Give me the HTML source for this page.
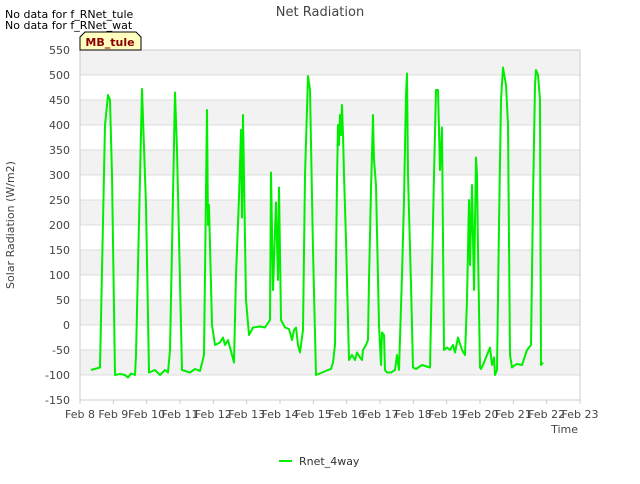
<!DOCTYPE html>
<html><head><meta charset="utf-8"><style>
body{margin:0;background:#fff;font-family:"DejaVu Sans","Liberation Sans",sans-serif;}
svg text{font-family:"DejaVu Sans","Liberation Sans",sans-serif;}
</style></head><body>
<svg id="chart" width="640" height="480" xmlns="http://www.w3.org/2000/svg">
<text x="5" y="18" font-size="11" fill="#000">No data for f_RNet_tule</text>
<text x="5" y="29" font-size="11" fill="#000">No data for f_RNet_wat</text>
<text x="320" y="16" font-size="13" fill="#444" text-anchor="middle">Net Radiation</text>
<g id="grid"></g>
<g id="axes"></g>
<g id="series"></g>
<g>
<path d="M80,50 L80,37 L85,32 L136,32 L141,37 L141,50 Z" fill="#ffffc0" stroke="#000" stroke-width="1"/>
<text x="110" y="46" font-size="11" font-weight="bold" fill="#8b0000" text-anchor="middle">MB_tule</text>
</g>
<text x="14" y="225" font-size="11" fill="#444" text-anchor="middle" transform="rotate(-90 14 225)">Solar Radiation (W/m2)</text>
<text x="578" y="433" font-size="11" fill="#444" text-anchor="end">Time</text>
<g>
<line x1="279" y1="461" x2="292" y2="461" stroke="#00ee00" stroke-width="2"/>
<text x="299" y="465" font-size="11" fill="#333">Rnet_4way</text>
</g>
</svg>
<script>
const yTicks=[-150,-100,-50,0,50,100,150,200,250,300,350,400,450,500,550];
const xTickLabels=["Feb 8","Feb 9","Feb 10","Feb 11","Feb 12","Feb 13","Feb 14","Feb 15","Feb 16","Feb 17","Feb 18","Feb 19","Feb 20","Feb 21","Feb 22","Feb 23"];
const px=[91,100,105,108,110,112,115,120,125,128,131,135,136,142,146,149,155,160,165,168,170,175,177,182,190,195,200,204,207,208,209,212,215,220,223,225,228,232,234,236,239,241,242,243,246,249,253,260,265,270,271,273,276,278,279,281,285,289,292,294,296,298,300,303,305,308,310,313,316,322,328,331,333,335,337,338,339,340,341,342,343,344,346,349,352,355,357,360,362,363,366,368,369,371,373,374,376,379,381,382,384,385,387,391,395,397,399,402,404,406,407,408,411,413,416,422,430,434,436,438,440,442,444,447,450,453,455,458,462,465,467,469,470,472,474,476,477,478,480,481,483,487,490,492,494,495,497,499,501,503,506,508,510,512,515,517,522,527,531,533,535,536,538,540,541,543,545,548,552,558];
const vals=[-90,-85,400,460,450,300,-100,-98,-100,-105,-97,-100,-60,472,240,-95,-90,-100,-90,-95,-50,465,350,-90,-95,-88,-92,-60,430,200,240,0,-40,-35,-25,-40,-30,-60,-75,100,255,390,215,420,50,-20,-5,-3,-5,10,305,70,245,90,275,10,-5,-8,-30,-10,-5,-40,-55,-10,300,498,470,150,-100,-95,-90,-88,-75,-40,290,400,360,420,380,440,380,300,170,-70,-60,-70,-55,-65,-70,-50,-40,-30,90,270,420,330,280,0,-80,-15,-20,-90,-95,-95,-90,-60,-90,100,250,460,503,300,80,-85,-88,-80,-85,300,470,470,310,395,-50,-45,-50,-40,-55,-25,-50,-60,50,250,120,280,70,335,300,150,-85,-88,-80,-60,-45,-80,-65,-100,-90,200,450,515,480,400,-60,-85,-80,-78,-80,-50,-40,250,480,510,500,450,-80,-75];
const times=px.map(p=>(p-80)/(500/15));
const NS="http://www.w3.org/2000/svg";
const L=80,R=580,T=50,B=400,ymin=-150,ymax=550;
const yS=v=>B-(v-ymin)/(ymax-ymin)*(B-T);
const xS=d=>L+d/15*(R-L);
const g=document.getElementById('grid'),a=document.getElementById('axes'),s=document.getElementById('series');
for(let i=0;i<yTicks.length-1;i++){
  const r=document.createElementNS(NS,'rect');
  
  
  r.setAttribute('x',L);r.setAttribute('width',R-L);
  r.setAttribute('y',yS(yTicks[i+1]));r.setAttribute('height',yS(yTicks[i])-yS(yTicks[i+1]));
  r.setAttribute('fill',i%2===0?'#ffffff':'#f2f2f2');g.appendChild(r);
}
yTicks.forEach(v=>{
  const l=document.createElementNS(NS,'line');
  
  
  l.setAttribute('x1',L);l.setAttribute('x2',R);l.setAttribute('y1',yS(v));l.setAttribute('y2',yS(v));
  l.setAttribute('stroke','#dcdcdc');g.appendChild(l);
  const t=document.createElementNS(NS,'text');
  
  
  t.setAttribute('x',L-10);t.setAttribute('y',yS(v)+4);t.setAttribute('text-anchor','end');
  t.setAttribute('font-size','11');t.setAttribute('fill','#444');t.textContent=v;a.appendChild(t);
});
const fr=document.createElementNS(NS,'rect');


fr.setAttribute('x',L);fr.setAttribute('y',T);fr.setAttribute('width',R-L);fr.setAttribute('height',B-T);
fr.setAttribute('fill','none');fr.setAttribute('stroke','#ccc');a.appendChild(fr);
xTickLabels.forEach((lab,i)=>{
  const t=document.createElementNS(NS,'text');
  
  
  t.setAttribute('x',xS(i));t.setAttribute('y',B+18);t.setAttribute('text-anchor','middle');
  t.setAttribute('font-size','11');t.setAttribute('fill','#444');t.textContent=lab;a.appendChild(t);
  const k=document.createElementNS(NS,'line');
  
  
  k.setAttribute('x1',xS(i));k.setAttribute('x2',xS(i));k.setAttribute('y1',B);k.setAttribute('y2',B+4);
  k.setAttribute('stroke','#ccc');a.appendChild(k);
});
const p=document.createElementNS(NS,'path');


p.setAttribute('d',times.map((d,i)=>(i?'L':'M')+xS(d).toFixed(1)+','+yS(vals[i]).toFixed(1)).join(''));
p.setAttribute('fill','none');p.setAttribute('stroke','#00ee00');p.setAttribute('stroke-width','2');
p.setAttribute('stroke-linejoin','round');
s.appendChild(p);
</script>
</body></html>
